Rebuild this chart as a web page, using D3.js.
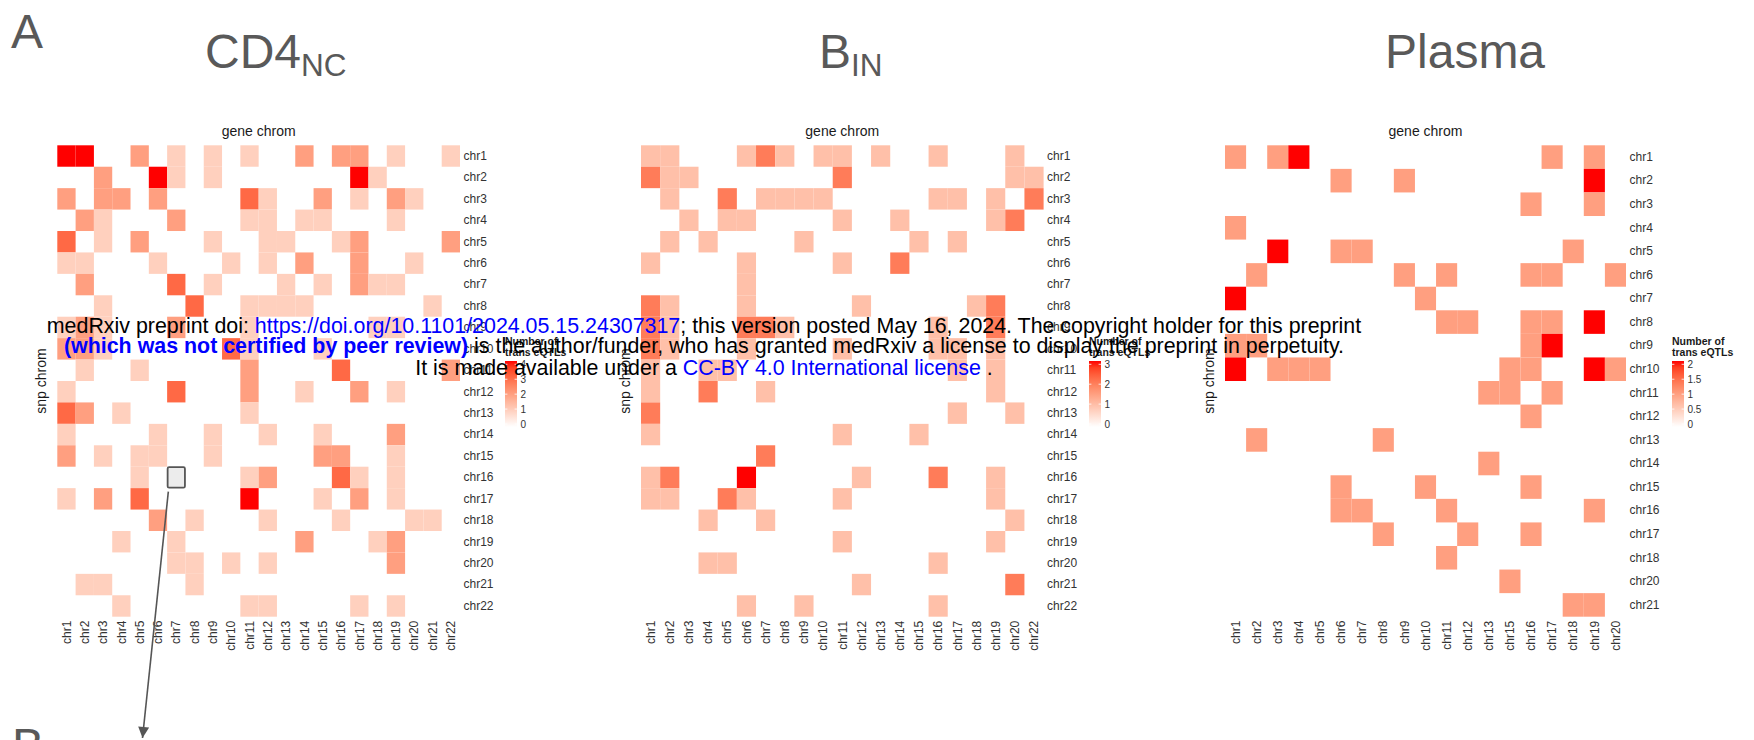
<!DOCTYPE html>
<html>
<head>
<meta charset="utf-8">
<script src="https://cdn.jsdelivr.net/npm/d3@7"></script>
<style>
  html, body { margin: 0; padding: 0; background: #fff; }
  svg { display: block; font-family: "Liberation Sans", Arial, sans-serif; }
</style>
</head>
<body>
<svg id="fig" width="1754" height="740"></svg>
<script>
// ---- categories ----
const cd4Rows = ["chr1","chr2","chr3","chr4","chr5","chr6","chr7","chr8","chr9","chr10","chr11","chr12","chr13","chr14","chr15","chr16","chr17","chr18","chr19","chr20","chr21","chr22"];
const cd4Cols = ["chr1","chr2","chr3","chr4","chr5","chr6","chr7","chr8","chr9","chr10","chr11","chr12","chr13","chr14","chr15","chr16","chr17","chr18","chr19","chr20","chr21","chr22"];
const bRows = ["chr1","chr2","chr3","chr4","chr5","chr6","chr7","chr8","chr9","chr10","chr11","chr12","chr13","chr14","chr15","chr16","chr17","chr18","chr19","chr20","chr21","chr22"];
const bCols = ["chr1","chr2","chr3","chr4","chr5","chr6","chr7","chr8","chr9","chr10","chr11","chr12","chr13","chr14","chr15","chr16","chr17","chr18","chr19","chr20","chr22"];
const plasmaRows = ["chr1","chr2","chr3","chr4","chr5","chr6","chr7","chr8","chr9","chr10","chr11","chr12","chr13","chr14","chr15","chr16","chr17","chr18","chr20","chr21"];
const plasmaCols = ["chr1","chr2","chr3","chr4","chr5","chr6","chr7","chr8","chr9","chr10","chr11","chr12","chr13","chr15","chr16","chr17","chr18","chr19","chr20"];

// ---- number of trans eQTLs: [snp chrom, gene chrom, count] ----
const cd4Cells = [
  ["chr1","chr1",4],["chr1","chr2",4],["chr1","chr5",2],["chr1","chr7",1],["chr1","chr9",1],["chr1","chr11",1],["chr1","chr14",2],["chr1","chr16",2],["chr1","chr17",2],["chr1","chr19",1],["chr1","chr22",1],
  ["chr2","chr3",2],["chr2","chr6",4],["chr2","chr7",1],["chr2","chr9",1],["chr2","chr17",4],["chr2","chr18",1],
  ["chr3","chr1",2],["chr3","chr3",2],["chr3","chr4",2],["chr3","chr6",2],["chr3","chr11",3],["chr3","chr12",1],["chr3","chr15",2],["chr3","chr17",1],["chr3","chr19",2],["chr3","chr20",1],
  ["chr4","chr2",2],["chr4","chr3",1],["chr4","chr7",2],["chr4","chr11",1],["chr4","chr12",1],["chr4","chr14",1],["chr4","chr15",1],["chr4","chr19",1],
  ["chr5","chr1",3],["chr5","chr3",1],["chr5","chr5",2],["chr5","chr9",1],["chr5","chr12",1],["chr5","chr13",1],["chr5","chr16",1],["chr5","chr17",2],["chr5","chr22",2],
  ["chr6","chr1",1],["chr6","chr2",1],["chr6","chr6",1],["chr6","chr10",1],["chr6","chr12",1],["chr6","chr14",2],["chr6","chr17",2],["chr6","chr20",1],
  ["chr7","chr2",2],["chr7","chr7",3],["chr7","chr9",1],["chr7","chr13",1],["chr7","chr15",1],["chr7","chr17",2],["chr7","chr18",1],["chr7","chr19",1],
  ["chr8","chr3",1],["chr8","chr8",3],["chr8","chr11",1],["chr8","chr12",1],["chr8","chr13",1],["chr8","chr14",1],["chr8","chr21",1],
  ["chr9","chr1",1],["chr9","chr2",2],["chr9","chr3",1],["chr9","chr7",2],["chr9","chr11",1],["chr9","chr18",1],["chr9","chr19",1],
  ["chr10","chr1",2],["chr10","chr2",2],["chr10","chr3",1],["chr10","chr10",3],["chr10","chr11",1],["chr10","chr15",1],
  ["chr11","chr2",1],["chr11","chr5",1],["chr11","chr11",2],["chr11","chr16",3],["chr11","chr22",2],
  ["chr12","chr1",1],["chr12","chr7",3],["chr12","chr11",2],["chr12","chr14",1],["chr12","chr17",2],["chr12","chr19",1],
  ["chr13","chr1",3],["chr13","chr2",2],["chr13","chr4",1],["chr13","chr11",1],
  ["chr14","chr1",1],["chr14","chr6",1],["chr14","chr9",1],["chr14","chr12",1],["chr14","chr15",1],["chr14","chr19",2],
  ["chr15","chr1",2],["chr15","chr3",1],["chr15","chr5",1],["chr15","chr6",1],["chr15","chr9",1],["chr15","chr15",2],["chr15","chr16",2],["chr15","chr19",1],
  ["chr16","chr5",1],["chr16","chr11",1],["chr16","chr12",2],["chr16","chr16",3],["chr16","chr17",1],["chr16","chr19",1],
  ["chr17","chr1",1],["chr17","chr3",2],["chr17","chr5",3],["chr17","chr11",4],["chr17","chr15",1],["chr17","chr17",2],["chr17","chr19",1],
  ["chr18","chr6",2],["chr18","chr8",1],["chr18","chr12",1],["chr18","chr16",1],["chr18","chr20",1],["chr18","chr21",1],
  ["chr19","chr4",1],["chr19","chr7",1],["chr19","chr14",2],["chr19","chr18",1],["chr19","chr19",2],
  ["chr20","chr7",1],["chr20","chr8",1],["chr20","chr10",1],["chr20","chr12",1],["chr20","chr19",2],
  ["chr21","chr2",1],["chr21","chr3",1],["chr21","chr8",1],
  ["chr22","chr4",1],["chr22","chr11",1],["chr22","chr12",1],["chr22","chr17",1],["chr22","chr19",1]
];
const bCells = [
  ["chr1","chr1",1],["chr1","chr2",1],["chr1","chr6",1],["chr1","chr7",2],["chr1","chr8",1],["chr1","chr10",1],["chr1","chr11",1],["chr1","chr13",1],["chr1","chr16",1],["chr1","chr20",1],
  ["chr2","chr1",2],["chr2","chr2",1],["chr2","chr3",1],["chr2","chr11",2],["chr2","chr20",1],["chr2","chr22",1],
  ["chr3","chr2",1],["chr3","chr5",2],["chr3","chr7",1],["chr3","chr8",1],["chr3","chr9",1],["chr3","chr10",1],["chr3","chr16",1],["chr3","chr17",1],["chr3","chr19",1],["chr3","chr22",2],
  ["chr4","chr3",1],["chr4","chr5",1],["chr4","chr6",1],["chr4","chr11",1],["chr4","chr14",1],["chr4","chr19",1],["chr4","chr20",2],
  ["chr5","chr2",1],["chr5","chr4",1],["chr5","chr9",1],["chr5","chr15",1],["chr5","chr17",1],
  ["chr6","chr1",1],["chr6","chr6",1],["chr6","chr11",1],["chr6","chr14",2],
  ["chr7","chr6",1],
  ["chr8","chr1",2],["chr8","chr2",1],["chr8","chr6",1],["chr8","chr12",1],["chr8","chr18",1],["chr8","chr19",2],
  ["chr9","chr1",2],["chr9","chr2",1],["chr9","chr6",2],["chr9","chr7",2],["chr9","chr8",1],["chr9","chr16",1],["chr9","chr19",2],
  ["chr10","chr1",2],["chr10","chr2",1],["chr10","chr6",1],["chr10","chr11",1],["chr10","chr16",1],["chr10","chr17",1],["chr10","chr19",1],
  ["chr11","chr1",1],["chr11","chr4",1],["chr11","chr5",1],["chr11","chr17",1],["chr11","chr19",1],
  ["chr12","chr1",1],["chr12","chr4",2],["chr12","chr7",1],["chr12","chr19",1],
  ["chr13","chr1",2],["chr13","chr17",1],["chr13","chr20",1],
  ["chr14","chr1",1],["chr14","chr11",1],["chr14","chr15",1],
  ["chr15","chr7",2],
  ["chr16","chr1",1],["chr16","chr2",2],["chr16","chr6",3],["chr16","chr12",1],["chr16","chr16",2],["chr16","chr19",1],
  ["chr17","chr1",1],["chr17","chr2",1],["chr17","chr5",2],["chr17","chr6",1],["chr17","chr11",1],["chr17","chr19",1],
  ["chr18","chr4",1],["chr18","chr7",1],["chr18","chr20",1],
  ["chr19","chr11",1],["chr19","chr19",1],
  ["chr20","chr4",1],["chr20","chr5",1],["chr20","chr16",1],
  ["chr21","chr12",1],["chr21","chr20",2],
  ["chr22","chr6",1],["chr22","chr9",1],["chr22","chr16",1]
];
const plasmaCells = [
  ["chr1","chr1",1],["chr1","chr3",1],["chr1","chr4",2],["chr1","chr17",1],["chr1","chr19",1],
  ["chr2","chr6",1],["chr2","chr9",1],["chr2","chr19",2],
  ["chr3","chr16",1],["chr3","chr19",1],
  ["chr4","chr1",1],
  ["chr5","chr3",2],["chr5","chr6",1],["chr5","chr7",1],["chr5","chr18",1],
  ["chr6","chr2",1],["chr6","chr9",1],["chr6","chr11",1],["chr6","chr16",1],["chr6","chr17",1],["chr6","chr20",1],
  ["chr7","chr1",2],["chr7","chr10",1],
  ["chr8","chr11",1],["chr8","chr12",1],["chr8","chr16",1],["chr8","chr17",1],["chr8","chr19",2],
  ["chr9","chr1",1],["chr9","chr2",1],["chr9","chr16",1],["chr9","chr17",2],
  ["chr10","chr1",2],["chr10","chr3",1],["chr10","chr4",1],["chr10","chr5",1],["chr10","chr15",1],["chr10","chr16",1],["chr10","chr19",2],["chr10","chr20",1],
  ["chr11","chr13",1],["chr11","chr15",1],["chr11","chr17",1],
  ["chr12","chr16",1],
  ["chr13","chr2",1],["chr13","chr8",1],
  ["chr14","chr13",1],
  ["chr15","chr6",1],["chr15","chr10",1],["chr15","chr16",1],
  ["chr16","chr6",1],["chr16","chr7",1],["chr16","chr11",1],["chr16","chr19",1],
  ["chr17","chr8",1],["chr17","chr12",1],["chr17","chr16",1],
  ["chr18","chr11",1],
  ["chr20","chr15",1],
  ["chr21","chr18",1],["chr21","chr19",1]
];

// ---- colour bar ticks ----
const cd4Ticks = [0, 1, 2, 3, 4];
const bTicks = [0, 1, 2, 3];
const plasmaTicks = [0, 0.5, 1, 1.5, 2];

// ---- layout ----
const FONT = '"Liberation Sans", Arial, sans-serif';
const GRID_TOP = 145.3, GRID_BOTTOM = 616.7;
const svg = d3.select("#fig");
const defs = svg.append("defs");

const panels = [
  { id: "cd4", name: "CD4", sub: "NC", titleX: 205, rows: cd4Rows, cols: cd4Cols, cells: cd4Cells, ticks: cd4Ticks, x0: 57.3, x1: 460, legendX: 505 },
  { id: "bin", name: "B", sub: "IN", titleX: 819, rows: bRows, cols: bCols, cells: bCells, ticks: bTicks, x0: 641, x1: 1043.6, legendX: 1089 },
  { id: "plasma", name: "Plasma", sub: "", titleX: 1385, rows: plasmaRows, cols: plasmaCols, cells: plasmaCells, ticks: plasmaTicks, x0: 1225, x1: 1626, legendX: 1672 }
];

const scales = {};

panels.forEach(p => {
  const max = d3.max(p.ticks);
  const x = d3.scaleBand().domain(p.cols).range([p.x0, p.x1]);
  const y = d3.scaleBand().domain(p.rows).range([GRID_TOP, GRID_BOTTOM]);
  const color = d3.scaleSequential(d3.interpolateLab("#ffffff", "#ff0000")).domain([0, max]);
  scales[p.id] = { x, y, color };

  const g = svg.append("g").attr("class", "panel-" + p.id);

  // panel title
  const t = g.append("text")
    .attr("x", p.titleX).attr("y", 67.5)
    .attr("font-family", FONT).attr("font-size", 48).attr("fill", "#595959");
  t.append("tspan").text(p.name);
  if (p.sub) t.append("tspan").attr("font-size", 31.5).attr("dy", 8.5).text(p.sub);

  // tiles
  g.append("g").selectAll("rect")
    .data(p.cells)
    .join("rect")
    .attr("x", d => x(d[1]))
    .attr("y", d => y(d[0]))
    .attr("width", x.bandwidth())
    .attr("height", y.bandwidth())
    .attr("fill", d => color(d[2]));

  // snp chrom labels on the right
  const ya = g.append("g")
    .attr("transform", `translate(${p.x1},0)`)
    .call(d3.axisRight(y).tickSize(0).tickPadding(3.5));
  ya.select(".domain").remove();
  ya.attr("font-family", FONT).attr("font-size", 12);
  ya.selectAll("text").attr("fill", "#333");

  // gene chrom labels below, rotated
  const xa = g.append("g")
    .attr("transform", `translate(0,${GRID_BOTTOM})`)
    .call(d3.axisBottom(x).tickSize(0));
  xa.select(".domain").remove();
  xa.attr("font-family", FONT).attr("font-size", 12);
  xa.selectAll("text")
    .attr("fill", "#333")
    .attr("transform", "rotate(-90)")
    .attr("text-anchor", "end")
    .attr("x", -4).attr("y", 0).attr("dy", "0.35em");

  // axis titles
  g.append("text")
    .attr("x", (p.x0 + p.x1) / 2).attr("y", 135.5)
    .attr("text-anchor", "middle")
    .attr("font-family", FONT).attr("font-size", 14).attr("fill", "#1a1a1a")
    .text("gene chrom");
  g.append("text")
    .attr("transform", `translate(${p.x0 - 11},${(GRID_TOP + GRID_BOTTOM) / 2}) rotate(-90)`)
    .attr("text-anchor", "middle")
    .attr("font-family", FONT).attr("font-size", 14).attr("fill", "#1a1a1a")
    .text("snp chrom");

  // colour bar legend
  const lg = g.append("g").attr("class", "legend");
  lg.append("text")
    .attr("x", p.legendX).attr("y", 345)
    .attr("font-family", FONT).attr("font-size", 10.5).attr("font-weight", "bold").attr("fill", "#1a1a1a")
    .text("Number of");
  lg.append("text")
    .attr("x", p.legendX).attr("y", 356)
    .attr("font-family", FONT).attr("font-size", 10.5).attr("font-weight", "bold").attr("fill", "#1a1a1a")
    .text("trans eQTLs");

  const barTop = 361, barBottom = 427, barW = 12;
  const grad = defs.append("linearGradient")
    .attr("id", "grad-" + p.id)
    .attr("gradientUnits", "userSpaceOnUse")
    .attr("x1", 0).attr("x2", 0).attr("y1", barBottom).attr("y2", barTop);
  d3.range(0, 1.0001, 0.1).forEach(s => {
    grad.append("stop").attr("offset", s).attr("stop-color", color(s * max));
  });
  lg.append("rect")
    .attr("x", p.legendX).attr("y", barTop)
    .attr("width", barW).attr("height", barBottom - barTop)
    .attr("fill", `url(#grad-${p.id})`);

  const ly = d3.scaleLinear().domain([0, max]).range([424, 364.3]);
  lg.selectAll("line.tl").data(p.ticks).join("line")
    .attr("x1", p.legendX).attr("x2", p.legendX + 2.4)
    .attr("y1", d => ly(d)).attr("y2", d => ly(d))
    .attr("stroke", "#fff").attr("stroke-width", 0.8);
  lg.selectAll("line.tr").data(p.ticks).join("line")
    .attr("x1", p.legendX + barW - 2.4).attr("x2", p.legendX + barW)
    .attr("y1", d => ly(d)).attr("y2", d => ly(d))
    .attr("stroke", "#fff").attr("stroke-width", 0.8);
  lg.selectAll("text.tick").data(p.ticks).join("text")
    .attr("class", "tick")
    .attr("x", p.legendX + barW + 3.5)
    .attr("y", d => ly(d))
    .attr("dy", "0.35em")
    .attr("font-family", FONT).attr("font-size", 10).attr("fill", "#333")
    .text(d => d);
});

// highlighted tile and pointer arrow
const s1 = scales.cd4;
const boxX = s1.x("chr7"), boxY = s1.y("chr16");
svg.append("rect")
  .attr("x", boxX + 0.5).attr("y", boxY + 0.5)
  .attr("width", s1.x.bandwidth() - 1).attr("height", s1.y.bandwidth() - 1)
  .attr("rx", 1.5)
  .attr("fill", "#ececec").attr("stroke", "#555").attr("stroke-width", 1.8);

defs.append("marker")
  .attr("id", "arrowhead")
  .attr("viewBox", "0 0 10 10").attr("refX", 10).attr("refY", 5)
  .attr("markerUnits", "userSpaceOnUse")
  .attr("markerWidth", 15).attr("markerHeight", 11)
  .attr("orient", "auto")
  .append("path").attr("d", "M0,0 L10,5 L0,10 Z").attr("fill", "#555");

svg.append("line")
  .attr("x1", boxX + 1.2).attr("y1", boxY + s1.y.bandwidth() + 3.5)
  .attr("x2", 142.5).attr("y2", 738)
  .attr("stroke", "#555").attr("stroke-width", 1.6)
  .attr("marker-end", "url(#arrowhead)");

// figure panel letters
svg.append("text").attr("x", 11).attr("y", 48.3)
  .attr("font-family", FONT).attr("font-size", 48).attr("fill", "#595959").text("A");
svg.append("text").attr("x", 12).attr("y", 762)
  .attr("font-family", FONT).attr("font-size", 48).attr("fill", "#595959").text("B");

// preprint notice
const note = svg.append("g").attr("font-family", FONT).attr("font-size", 21.4).attr("text-anchor", "middle");
const l1 = note.append("text").attr("x", 704).attr("y", 332.7);
l1.append("tspan").attr("fill", "#000").text("medRxiv preprint doi: ");
l1.append("tspan").attr("fill", "#0000ff").text("https://doi.org/10.1101/2024.05.15.24307317");
l1.append("tspan").attr("fill", "#000").text("; this version posted May 16, 2024. The copyright holder for this preprint");
const l2 = note.append("text").attr("x", 704).attr("y", 353.3);
l2.append("tspan").attr("fill", "#0000ff").attr("font-weight", "bold").text("(which was not certified by peer review)");
l2.append("tspan").attr("fill", "#000").text(" is the author/funder, who has granted medRxiv a license to display the preprint in perpetuity.");
const l3 = note.append("text").attr("x", 704).attr("y", 375);
l3.append("tspan").attr("fill", "#000").text("It is made available under a ");
l3.append("tspan").attr("fill", "#0000ff").text("CC-BY 4.0 International license");
l3.append("tspan").attr("fill", "#000").text(" .");
</script>
</body>
</html>
